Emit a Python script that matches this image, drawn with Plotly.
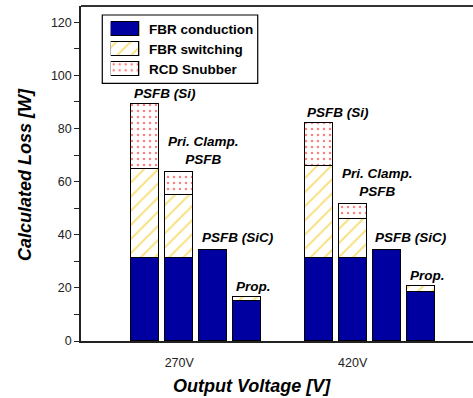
import plotly.graph_objects as go

# Output voltages and converter topologies
voltages = ["270V", "420V"]
converters = ["PSFB (Si)", "Pri. Clamp.<br>PSFB", "PSFB (SiC)", "Prop."]

# Loss breakdown [W], ordered 270V (4 converters) then 420V (4 converters)
fbr_conduction = [31.1, 31.1, 34.4, 14.9, 31.1, 31.2, 34.4, 18.4]
fbr_switching = [33.5, 24.0, None, 1.8, 34.6, 14.9, None, 2.3]
rcd_snubber = [24.6, 8.6, None, None, 16.2, 5.4, None, None]

series_names = ["FBR conduction", "FBR switching", "RCD Snubber"]

# bar positions: 4 bars per voltage group, groups separated by a wider gap
GROUP_STEP = 5.1
xpos = [g * GROUP_STEP + i for g in range(len(voltages)) for i in range(len(converters))]
tick_pos = [g * GROUP_STEP + 1 for g in range(len(voltages))]

FONT = "Arial, Liberation Sans, sans-serif"
NAVY = "#0000A0"
GOLD = "#F2C200"
RED = "#FF0000"
BAR_W = 0.82

styles = [
    dict(color=NAVY, line=dict(color="black", width=1.3)),
    dict(color="white", line=dict(color="black", width=1.3),
         pattern=dict(shape="/", fgcolor=GOLD, bgcolor="white", size=10, solidity=0.2)),
    dict(color="white", line=dict(color="black", width=1.3),
         pattern=dict(shape=".", fgcolor=RED, bgcolor="white", size=6, solidity=0.13)),
]

fig = go.Figure()
for name, vals, st in zip(series_names, [fbr_conduction, fbr_switching, rcd_snubber], styles):
    fig.add_trace(go.Bar(x=xpos, y=vals, name=name, width=BAR_W, marker=st,
                         showlegend=False, hoverinfo="skip"))

# legend swatches drawn as short horizontal bars on a small inset axis
for k, (name, st) in enumerate(zip(series_names, styles)):
    fig.add_trace(go.Bar(x=[1], y=[2 - k], orientation="h", width=0.667,
                         marker=st, xaxis="x2", yaxis="y2",
                         showlegend=False, hoverinfo="skip"))
    fig.add_annotation(x=1, y=2 - k, xref="x2", yref="y2", text="<b>%s</b>" % name,
                       xanchor="left", yanchor="middle", xshift=8, showarrow=False,
                       font=dict(family=FONT, size=13.5, color="black"))

# converter labels above each bar
label_dx = [0.58, 0.72, 0.72, 0.19]
label_dy = [1, 3, 3, 1]
for j, x in enumerate(xpos):
    i = j % len(converters)
    total = sum(v for v in (fbr_conduction[j], fbr_switching[j], rcd_snubber[j]) if v)
    fig.add_annotation(x=x + label_dx[i], y=total, text="<b><i>%s</i></b>" % converters[i],
                       xanchor="center", yanchor="bottom", yshift=label_dy[i],
                       showarrow=False,
                       font=dict(family=FONT, size=13.5, color="black"))

# axis titles
fig.add_annotation(x=-0.143, y=0.4985, xref="paper", yref="paper",
                   text="<b><i>Calculated Loss [W]</i></b>", textangle=-90,
                   showarrow=False, xanchor="center", yanchor="middle",
                   font=dict(family=FONT, size=18, color="black"))
fig.add_annotation(x=0.435, y=-0.134, xref="paper", yref="paper",
                   text="<b><i>Output Voltage [V]</i></b>",
                   showarrow=False, xanchor="center", yanchor="middle",
                   font=dict(family=FONT, size=18, color="black"))

# legend frame and top border of the plotting area
fig.add_shape(type="rect", xref="paper", yref="paper", x0=0.0543, x1=0.4508,
              y0=0.7693, y1=0.9731, line=dict(color="black", width=1.2),
              fillcolor="white", layer="below")
fig.add_shape(type="line", xref="paper", yref="paper", x0=0, x1=1, y0=1, y1=1,
              line=dict(color="#333", width=2))

fig.update_layout(
    width=473, height=398,
    margin=dict(l=81, r=0, t=6, b=57),
    paper_bgcolor="white", plot_bgcolor="white",
    barmode="stack", bargap=0,
    font=dict(family=FONT, size=12.5, color="#222"),
    xaxis=dict(range=[-1.89, 9.64], tickvals=tick_pos, ticktext=voltages,
               showgrid=False, zeroline=False, showline=True, linecolor="#222",
               linewidth=2, ticks="", ticklabelstandoff=9),
    yaxis=dict(range=[0, 126.1], tickvals=[0, 20, 40, 60, 80, 100, 120],
               showgrid=False, zeroline=False, showline=True, linecolor="#222",
               linewidth=1.5, ticks="outside", ticklen=5, tickcolor="#222",
               minor=dict(ticks="outside", dtick=10, ticklen=5, tickcolor="#222")),
    xaxis2=dict(domain=[0.0758, 0.1487], range=[0, 1], visible=False,
                anchor="y2", fixedrange=True),
    yaxis2=dict(domain=[0.7812, 0.9603], range=[-0.5, 2.5], visible=False,
                anchor="x2", fixedrange=True),
)

fig.write_html("out.html")
